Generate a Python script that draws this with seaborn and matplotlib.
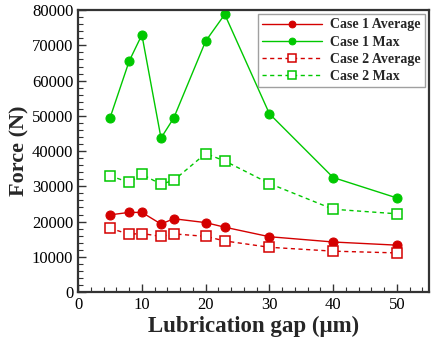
import matplotlib
matplotlib.use("Agg")
import matplotlib.pyplot as plt
from matplotlib.ticker import MultipleLocator
import seaborn as sns
import pandas as pd

gap = [5, 8, 10, 13, 15, 20, 23, 30, 40, 50]
case1_avg = [21900, 22600, 22600, 19300, 20800, 19700, 18400, 15700, 14200, 13300]
case1_max = [49400, 65500, 73000, 43700, 49400, 71200, 78800, 50600, 32500, 26700]
case2_avg = [18100, 16400, 16600, 15800, 16500, 15800, 14500, 12700, 11600, 11100]
case2_max = [33000, 31100, 33400, 30600, 31700, 39300, 37200, 30800, 23500, 22200]

labels = ["Case 1 Average", "Case 1 Max", "Case 2 Average", "Case 2 Max"]
series = [case1_avg, case1_max, case2_avg, case2_max]

sns.set_style("ticks")
plt.rcParams["font.family"] = ["Liberation Serif", "DejaVu Serif"]

red = "#d40000"
green = "#00c800"
styles = [
    dict(color=red, marker="o", linestyle="-", markersize=6.5, markerfacecolor=red, markeredgecolor=red),
    dict(color=green, marker="o", linestyle="-", markersize=6.5, markerfacecolor=green, markeredgecolor=green),
    dict(color=red, marker="s", linestyle=(0, (3, 2.5)), markersize=7.5, markerfacecolor="white", markeredgecolor=red, markeredgewidth=1.1),
    dict(color=green, marker="s", linestyle=(0, (3, 2.5)), markersize=7.5, markerfacecolor="white", markeredgecolor=green, markeredgewidth=1.1),
]

fig = plt.figure(figsize=(4.34, 3.38), dpi=100)
ax = fig.add_axes([0.18, 0.136, 0.808, 0.834])

for lab, vals, st in zip(labels, series, styles):
    df = pd.DataFrame({"gap": gap, "force": vals})
    sns.lineplot(data=df, x="gap", y="force", ax=ax, label=lab, linewidth=1.0, **st)

ax.set_xlim(0, 55)
ax.set_ylim(0, 80000)
ax.xaxis.set_major_locator(MultipleLocator(10))
ax.xaxis.set_minor_locator(MultipleLocator(2))
ax.yaxis.set_major_locator(MultipleLocator(10000))
ax.yaxis.set_minor_locator(MultipleLocator(2000))
ax.tick_params(which="both", direction="in", top=False, right=False, colors="#333333", labelcolor="black")
ax.tick_params(which="major", length=6, width=1.0, labelsize=12)
ax.tick_params(which="minor", length=3.5, width=0.8)
for side in ["left", "bottom", "top", "right"]:
    ax.spines[side].set_linewidth(1.6)
    ax.spines[side].set_color("#333333")
    ax.spines[side].set_visible(True)

ax.set_xlabel("Lubrication gap (\u03bcm)", fontsize=16.5, fontweight="bold", labelpad=2)
ax.set_ylabel("Force (N)", fontsize=16, fontweight="bold", labelpad=2)

leg = ax.legend(loc="upper right", handlelength=4.3, handletextpad=0.6,
                borderpad=0.3, labelspacing=0.3, frameon=True, fancybox=False,
                borderaxespad=0.3, markerscale=0.75, prop={"weight": "bold", "size": 10})
leg.get_frame().set_edgecolor("#888888")
leg.get_frame().set_linewidth(1.0)

fig.savefig("out.png", dpi=100)
